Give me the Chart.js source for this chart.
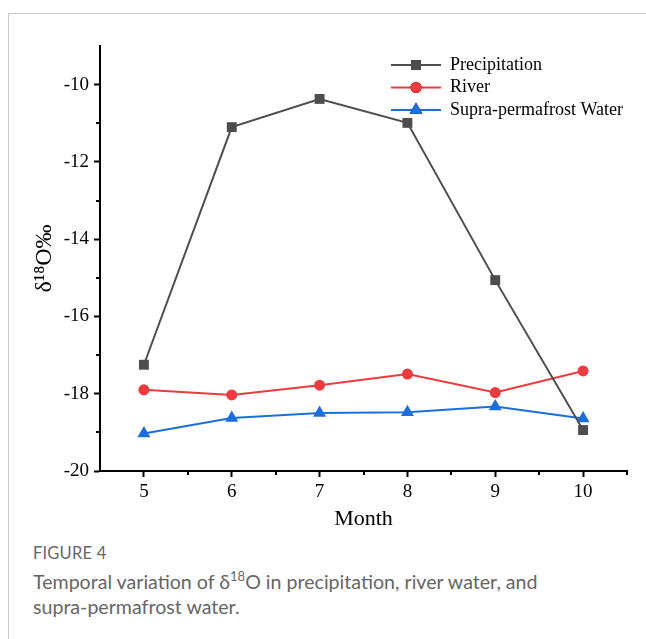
<!DOCTYPE html>
<html>
<head>
<meta charset="utf-8">
<script src="https://cdn.jsdelivr.net/npm/chart.js@4.4.1/dist/chart.umd.min.js"></script>
<style>
  body { margin: 0; background: #fff; width: 646px; height: 639px; overflow: hidden; position: relative; }
  #frame { position: absolute; left: 8px; top: 13px; width: 700px; height: 700px; border-left: 1px solid #c8c8c8; border-top: 1px solid #c8c8c8; }
  #chartBox { position: absolute; left: 0; top: 0; width: 646px; height: 540px; }
  #caption { position: absolute; left: 33px; top: 542px; font-family: Lato, "Open Sans", sans-serif; color: #666; }
  #caption .fig { font-size: 16.5px; letter-spacing: 0.2px; line-height: 22px; }
  #caption .txt { font-size: 19.6px; line-height: 25px; margin-top: 5px; }
  #caption sup { font-size: 13px; line-height: 0; }
</style>
</head>
<body>
<div id="frame"></div>
<div id="chartBox"><canvas id="lineChart" width="646" height="540"></canvas></div>
<div id="caption">
  <div class="fig">FIGURE 4</div>
  <div class="txt">Temporal variation of δ<sup>18</sup>O in precipitation, river water, and<br>supra-permafrost water.</div>
</div>
<script>
var meses = [5, 6, 7, 8, 9, 10];
var precipitacion = [-17.25, -11.10, -10.37, -10.99, -15.06, -18.94];
var rio = [-17.90, -18.03, -17.78, -17.49, -17.97, -17.41];
var suprapermafrost = [-19.03, -18.63, -18.50, -18.48, -18.33, -18.64];
var ticksY = [-20, -18, -16, -14, -12, -10];
var ticksYMenores = [-19, -17, -15, -13, -11];
var ticksXMenores = [5.5, 6.5, 7.5, 8.5, 9.5, 10.5];

function puntos(valores) {
    return meses.map(function(m, i){ return {x: m, y: valores[i]}; });
}

var fuente = 'Liberation Serif, Times New Roman, serif';

// ticks menores y leyenda con linea + marcador
var extras = {
    id: 'extras',
    afterDraw: function(chart) {
        var ctx = chart.ctx;
        var sx = chart.scales.x, sy = chart.scales.y;
        ctx.save();
        ctx.strokeStyle = '#000';
        ctx.lineWidth = 2;
        ctx.beginPath();
        ticksYMenores.forEach(function(v){
            var py = Math.round(sy.getPixelForValue(v));
            ctx.moveTo(sy.right, py);
            ctx.lineTo(sy.right - 4, py);
        });
        ticksXMenores.forEach(function(v){
            var px = Math.round(sx.getPixelForValue(v));
            ctx.moveTo(px, sx.top);
            ctx.lineTo(px, sx.top + 4);
        });
        ctx.stroke();

        var x0 = 391, y0 = 65, paso = 22.5;
        chart.data.datasets.forEach(function(ds, i){
            var y = y0 + i * paso;
            ctx.strokeStyle = ds.borderColor;
            ctx.lineWidth = 2;
            ctx.beginPath();
            ctx.moveTo(x0, y);
            ctx.lineTo(x0 + 50, y);
            ctx.stroke();
            Chart.helpers.drawPoint(ctx, {
                pointStyle: ds.pointStyle, radius: ds.pointRadius, borderWidth: 0
            }, x0 + 25, y);
            ctx.fillStyle = ds.pointBackgroundColor;
            ctx.fill();
            ctx.fillStyle = '#000';
            ctx.font = '18px ' + fuente;
            ctx.textBaseline = 'middle';
            ctx.fillText(ds.label, x0 + 59, y);
        });
        ctx.restore();
    }
};

function generarGrafica() {
    var canvas = document.getElementById('lineChart').getContext('2d');
    var series = [
        {label: 'Precipitation', data: puntos(precipitacion), color: '#4d4d4d', style: 'rect', r: 7},
        {label: 'River', data: puntos(rio), color: '#ef3a3f', style: 'circle', r: 5.5},
        {label: 'Supra-permafrost Water', data: puntos(suprapermafrost), color: '#1b6fdc', style: 'triangle', r: 7.5}
    ];

    new Chart(canvas, {
        type: 'line',
        data: {
            datasets: series.map(function(s){
                return {
                    label: s.label,
                    data: s.data,
                    borderColor: s.color,
                    backgroundColor: s.color,
                    pointBackgroundColor: s.color,
                    pointBorderWidth: 0,
                    pointStyle: s.style,
                    pointRadius: s.r,
                    borderWidth: 2,
                    tension: 0
                };
            })
        },
        options: {
            responsive: false,
            animation: false,
            layout: { padding: { left: 0, right: 19, top: 46, bottom: 0 } },
            plugins: { legend: { display: false }, tooltip: { enabled: false } },
            scales: {
                x: {
                    type: 'linear',
                    min: 4.5,
                    max: 10.5,
                    afterBuildTicks: function(scale){ scale.ticks = meses.map(function(v){ return {value: v}; }); },
                    afterFit: function(scale){ scale.height = 69; },
                    border: { display: true, color: '#000', width: 2 },
                    grid: { drawOnChartArea: false, drawTicks: true, tickLength: 6, tickColor: '#000', tickWidth: 2 },
                    ticks: { color: '#000', padding: 4, font: { family: fuente, size: 19 }, maxRotation: 0 },
                    title: { display: true, text: 'Month', color: '#000', font: { family: fuente, size: 22 }, padding: { top: 0, bottom: 8 } }
                },
                y: {
                    min: -20,
                    max: -9,
                    afterBuildTicks: function(scale){ scale.ticks = ticksY.map(function(v){ return {value: v}; }); },
                    afterFit: function(scale){ scale.width = 100; },
                    border: { display: true, color: '#000', width: 2 },
                    grid: { drawOnChartArea: false, drawTicks: true, tickLength: 6, tickColor: '#000', tickWidth: 2 },
                    ticks: { color: '#000', padding: 5, font: { family: fuente, size: 19 } },
                    title: { display: true, text: 'δ¹⁸O‰', color: '#000', font: { family: fuente, size: 24 }, padding: { top: 30, bottom: 0 } }
                }
            }
        },
        plugins: [extras]
    });
}

generarGrafica();
</script>
</body>
</html>
